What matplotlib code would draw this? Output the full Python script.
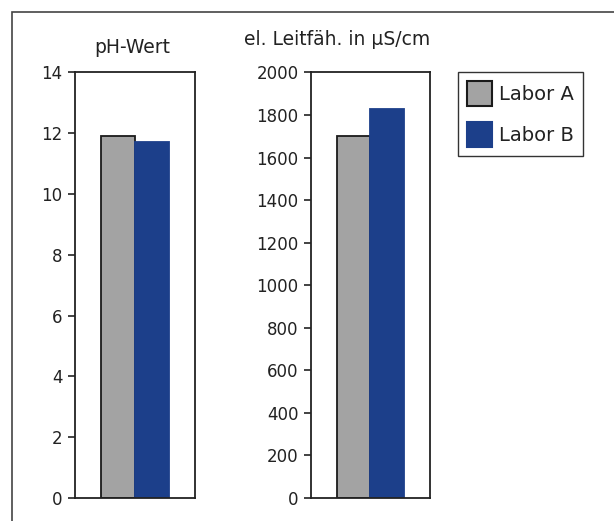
import matplotlib.pyplot as plt
from matplotlib.patches import Rectangle, Patch

# Messwerte der beiden Labore
labore = ["Labor A", "Labor B"]
ph_werte = [11.9, 11.7]
leitfaehigkeit = [1700, 1830]  # in µS/cm
farben = ["#a3a3a3", "#1c3f8a"]

ph_ticks = list(range(0, 15, 2))
lf_ticks = list(range(0, 2001, 200))

text_col = "#222222"
plt.rcParams['font.family'] = ['DejaVu Sans']

fig = plt.figure(figsize=(6.14, 5.21), dpi=100)

# Rahmen um die ganze Grafik
fig.patches.append(Rectangle((12 / 614, -0.1), 1.2, 1.1 - 12 / 521,
                             transform=fig.transFigure, fill=False,
                             edgecolor="#444444", linewidth=1.2))

ax1 = fig.add_axes([0.1221, 0.0442, 0.1954, 0.8167])
ax2 = fig.add_axes([0.5065, 0.0442, 0.1938, 0.8167])

xpos = [0.36, 0.64]


def draw_panel(ax, werte, ticks, titel, tx, ty):
    for i in range(len(werte)):
        ax.bar(xpos[i], werte[i], width=0.28, color=farben[i],
               edgecolor="#1a1a1a" if i == 0 else farben[i], linewidth=1.3)
    ax.set_xlim(0, 1)
    ax.set_ylim(ticks[0], ticks[-1])
    ax.set_yticks(ticks)
    ax.set_xticks([])
    ax.tick_params(axis='y', direction='out', length=5, width=1.2,
                   pad=4, labelsize=12, colors=text_col)
    for sp in ax.spines.values():
        sp.set_linewidth(1.3)
        sp.set_color("#222222")
    ax.text(tx, ty, titel, transform=ax.transAxes, ha='center',
            va='baseline', fontsize=13.5, color=text_col)


draw_panel(ax1, ph_werte, ph_ticks, "pH-Wert", 0.475, 1.046)
draw_panel(ax2, leitfaehigkeit, lf_ticks, "el. Leitfäh. in µS/cm", 0.218, 1.065)

handles = [Patch(facecolor=farben[0], edgecolor="#1a1a1a", linewidth=1.5),
           Patch(facecolor=farben[1], edgecolor=farben[1], linewidth=1.5)]
leg = fig.legend(handles, labore, loc='upper left',
                 bbox_to_anchor=(0.746, 0.862), borderaxespad=0,
                 fontsize=14, handlelength=1.3, handleheight=1.6,
                 handletextpad=0.35, labelspacing=0.85, borderpad=0.45,
                 fancybox=False, framealpha=1, edgecolor="#333333",
                 labelcolor=text_col)
leg.get_frame().set_linewidth(1.0)

fig.savefig("out.png", dpi=100)
